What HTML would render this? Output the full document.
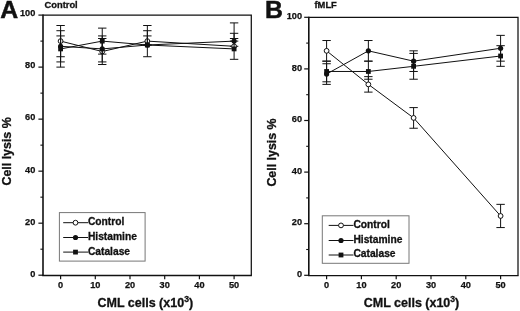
<!DOCTYPE html>
<html><head><meta charset="utf-8"><title>Figure</title>
<style>
html,body{margin:0;padding:0;background:#fff}
svg{display:block;filter:blur(0.35px)}
text{font-family:"Liberation Sans",sans-serif;font-weight:bold;fill:#111}
.tk{font-size:9.2px;stroke:#111;stroke-width:0.25px}
.lg{font-size:10.25px;stroke:#111;stroke-width:0.3px}
.xt{font-size:12.5px;stroke:#111;stroke-width:0.3px}
.yt{font-size:12.4px;stroke:#111;stroke-width:0.3px}
.pl{font-size:24.8px;stroke:#111;stroke-width:0.5px}
.tt{font-size:9.35px;stroke:#111;stroke-width:0.3px}
</style></head><body>
<svg width="520" height="311" viewBox="0 0 520 311">
<rect width="520" height="311" fill="#fff"/>
<path d="M43 15.1H251.3V275.5" fill="none" stroke="#111" stroke-width="1.25"/>
<path d="M43 14.5V275.5" fill="none" stroke="#111" stroke-width="1.6"/>
<path d="M42.2 275.5H251.9" fill="none" stroke="#111" stroke-width="1.4"/>
<line x1="38.4" y1="275.2" x2="43" y2="275.2" stroke="#111" stroke-width="1.2"/>
<text x="35.3" y="277.1" text-anchor="end" class="tk">0</text>
<line x1="40.4" y1="249.19" x2="43" y2="249.19" stroke="#111" stroke-width="1.1"/>
<line x1="38.4" y1="223.18" x2="43" y2="223.18" stroke="#111" stroke-width="1.2"/>
<text x="35.3" y="224.86" text-anchor="end" class="tk">20</text>
<line x1="40.4" y1="197.17" x2="43" y2="197.17" stroke="#111" stroke-width="1.1"/>
<line x1="38.4" y1="171.16" x2="43" y2="171.16" stroke="#111" stroke-width="1.2"/>
<text x="35.3" y="172.62" text-anchor="end" class="tk">40</text>
<line x1="40.4" y1="145.15" x2="43" y2="145.15" stroke="#111" stroke-width="1.1"/>
<line x1="38.4" y1="119.14" x2="43" y2="119.14" stroke="#111" stroke-width="1.2"/>
<text x="35.3" y="120.38" text-anchor="end" class="tk">60</text>
<line x1="40.4" y1="93.13" x2="43" y2="93.13" stroke="#111" stroke-width="1.1"/>
<line x1="38.4" y1="67.12" x2="43" y2="67.12" stroke="#111" stroke-width="1.2"/>
<text x="35.3" y="68.14" text-anchor="end" class="tk">80</text>
<line x1="40.4" y1="41.11" x2="43" y2="41.11" stroke="#111" stroke-width="1.1"/>
<line x1="38.4" y1="15.1" x2="43" y2="15.1" stroke="#111" stroke-width="1.2"/>
<text x="35.3" y="15.9" text-anchor="end" class="tk">100</text>
<line x1="60.6" y1="275.2" x2="60.6" y2="279.2" stroke="#111" stroke-width="1.2"/>
<text x="60.6" y="287.5" text-anchor="middle" class="tk">0</text>
<line x1="95.3" y1="275.2" x2="95.3" y2="279.2" stroke="#111" stroke-width="1.2"/>
<text x="95.3" y="287.5" text-anchor="middle" class="tk">10</text>
<line x1="130" y1="275.2" x2="130" y2="279.2" stroke="#111" stroke-width="1.2"/>
<text x="130" y="287.5" text-anchor="middle" class="tk">20</text>
<line x1="164.7" y1="275.2" x2="164.7" y2="279.2" stroke="#111" stroke-width="1.2"/>
<text x="164.7" y="287.5" text-anchor="middle" class="tk">30</text>
<line x1="199.4" y1="275.2" x2="199.4" y2="279.2" stroke="#111" stroke-width="1.2"/>
<text x="199.4" y="287.5" text-anchor="middle" class="tk">40</text>
<line x1="234.1" y1="275.2" x2="234.1" y2="279.2" stroke="#111" stroke-width="1.2"/>
<text x="234.1" y="287.5" text-anchor="middle" class="tk">50</text>
<path d="M60.6 41.11L102.24 51.51L147.35 41.11L234.1 46.31" stroke="#111" stroke-width="1.0" fill="none"/>
<path d="M60.6 25.5V56.72M56.4 25.5h8.4M56.4 56.72h8.4" stroke="#111" stroke-width="1.0" fill="none"/>
<path d="M102.24 38.51V64.52M98.04 38.51h8.4M98.04 64.52h8.4" stroke="#111" stroke-width="1.0" fill="none"/>
<path d="M147.35 25.5V56.72M143.15 25.5h8.4M143.15 56.72h8.4" stroke="#111" stroke-width="1.0" fill="none"/>
<path d="M234.1 33.31V46.31M229.9 33.31h8.4M229.9 46.31h8.4" stroke="#111" stroke-width="1.0" fill="none"/>
<circle cx="60.6" cy="41.11" r="2.4" fill="#fff" stroke="#111" stroke-width="1"/>
<circle cx="102.24" cy="51.51" r="2.4" fill="#fff" stroke="#111" stroke-width="1"/>
<circle cx="147.35" cy="41.11" r="2.4" fill="#fff" stroke="#111" stroke-width="1"/>
<circle cx="234.1" cy="46.31" r="2.4" fill="#fff" stroke="#111" stroke-width="1"/>
<path d="M60.6 46.31L102.24 48.91L147.35 45.01L234.1 41.11" stroke="#111" stroke-width="1.0" fill="none"/>
<path d="M60.6 30.71V61.92M56.4 30.71h8.4M56.4 61.92h8.4" stroke="#111" stroke-width="1.0" fill="none"/>
<path d="M102.24 35.91V61.92M98.04 35.91h8.4M98.04 61.92h8.4" stroke="#111" stroke-width="1.0" fill="none"/>
<path d="M147.35 30.71V45.01M143.15 30.71h8.4M143.15 45.01h8.4" stroke="#111" stroke-width="1.0" fill="none"/>
<path d="M234.1 22.9V41.11M229.9 22.9h8.4M229.9 41.11h8.4" stroke="#111" stroke-width="1.0" fill="none"/>
<circle cx="60.6" cy="46.31" r="2.6" fill="#111"/>
<circle cx="102.24" cy="48.91" r="2.6" fill="#111"/>
<circle cx="147.35" cy="45.01" r="2.6" fill="#111"/>
<circle cx="234.1" cy="41.11" r="2.6" fill="#111"/>
<path d="M60.6 48.91L102.24 41.11L147.35 45.01L234.1 48.91" stroke="#111" stroke-width="1.0" fill="none"/>
<path d="M60.6 35.91V67.12M56.4 35.91h8.4M56.4 67.12h8.4" stroke="#111" stroke-width="1.0" fill="none"/>
<path d="M102.24 28.11V54.12M98.04 28.11h8.4M98.04 54.12h8.4" stroke="#111" stroke-width="1.0" fill="none"/>
<path d="M147.35 35.91V45.01M143.15 35.91h8.4M143.15 45.01h8.4" stroke="#111" stroke-width="1.0" fill="none"/>
<path d="M234.1 38.51V59.32M229.9 38.51h8.4M229.9 59.32h8.4" stroke="#111" stroke-width="1.0" fill="none"/>
<rect x="58.2" y="46.51" width="4.8" height="4.8" fill="#111"/>
<rect x="99.84" y="38.71" width="4.8" height="4.8" fill="#111"/>
<rect x="144.95" y="42.61" width="4.8" height="4.8" fill="#111"/>
<rect x="231.7" y="46.51" width="4.8" height="4.8" fill="#111"/>
<rect x="59.4" y="212.6" width="85.7" height="48.5" fill="#fff" stroke="#777" stroke-width="1"/>
<line x1="63.2" y1="222.7" x2="88" y2="222.7" stroke="#111" stroke-width="1"/>
<circle cx="75.5" cy="222.7" r="2.4" fill="#fff" stroke="#111" stroke-width="1"/>
<text x="87.9" y="225.4" class="lg">Control</text>
<line x1="63.2" y1="237.5" x2="88" y2="237.5" stroke="#111" stroke-width="1"/>
<circle cx="75.5" cy="237.5" r="2.6" fill="#111"/>
<text x="87.9" y="240.2" class="lg">Histamine</text>
<line x1="63.2" y1="252.1" x2="88" y2="252.1" stroke="#111" stroke-width="1"/>
<rect x="73.1" y="249.7" width="4.8" height="4.8" fill="#111"/>
<text x="87.9" y="254.8" class="lg">Catalase</text>
<text x="145.3" y="306.9" class="xt" text-anchor="middle">CML cells (x10<tspan dy="-5" font-size="8.6">3</tspan><tspan dy="5">)</tspan></text>
<text transform="translate(10.6 151.4) rotate(-90)" class="yt" text-anchor="middle">Cell lysis %</text>
<text x="0.3" y="17.6" class="pl">A</text>
<text x="44.5" y="7.7" class="tt">Control</text>
<path d="M308.8 17.3H518V275.6" fill="none" stroke="#111" stroke-width="1.25"/>
<path d="M308.8 16.7V275.6" fill="none" stroke="#111" stroke-width="1.6"/>
<path d="M308 275.6H518.6" fill="none" stroke="#111" stroke-width="1.4"/>
<line x1="304.2" y1="275.3" x2="308.8" y2="275.3" stroke="#111" stroke-width="1.2"/>
<text x="302.1" y="276.9" text-anchor="end" class="tk">0</text>
<line x1="306.2" y1="249.5" x2="308.8" y2="249.5" stroke="#111" stroke-width="1.1"/>
<line x1="304.2" y1="223.7" x2="308.8" y2="223.7" stroke="#111" stroke-width="1.2"/>
<text x="302.1" y="225.3" text-anchor="end" class="tk">20</text>
<line x1="306.2" y1="197.9" x2="308.8" y2="197.9" stroke="#111" stroke-width="1.1"/>
<line x1="304.2" y1="172.1" x2="308.8" y2="172.1" stroke="#111" stroke-width="1.2"/>
<text x="302.1" y="173.7" text-anchor="end" class="tk">40</text>
<line x1="306.2" y1="146.3" x2="308.8" y2="146.3" stroke="#111" stroke-width="1.1"/>
<line x1="304.2" y1="120.5" x2="308.8" y2="120.5" stroke="#111" stroke-width="1.2"/>
<text x="302.1" y="122.1" text-anchor="end" class="tk">60</text>
<line x1="306.2" y1="94.7" x2="308.8" y2="94.7" stroke="#111" stroke-width="1.1"/>
<line x1="304.2" y1="68.9" x2="308.8" y2="68.9" stroke="#111" stroke-width="1.2"/>
<text x="302.1" y="70.5" text-anchor="end" class="tk">80</text>
<line x1="306.2" y1="43.1" x2="308.8" y2="43.1" stroke="#111" stroke-width="1.1"/>
<line x1="304.2" y1="17.3" x2="308.8" y2="17.3" stroke="#111" stroke-width="1.2"/>
<text x="302.1" y="18.9" text-anchor="end" class="tk">100</text>
<line x1="326.6" y1="275.3" x2="326.6" y2="279.3" stroke="#111" stroke-width="1.2"/>
<text x="326.6" y="287.6" text-anchor="middle" class="tk">0</text>
<line x1="361.4" y1="275.3" x2="361.4" y2="279.3" stroke="#111" stroke-width="1.2"/>
<text x="361.4" y="287.6" text-anchor="middle" class="tk">10</text>
<line x1="396.2" y1="275.3" x2="396.2" y2="279.3" stroke="#111" stroke-width="1.2"/>
<text x="396.2" y="287.6" text-anchor="middle" class="tk">20</text>
<line x1="431" y1="275.3" x2="431" y2="279.3" stroke="#111" stroke-width="1.2"/>
<text x="431" y="287.6" text-anchor="middle" class="tk">30</text>
<line x1="465.8" y1="275.3" x2="465.8" y2="279.3" stroke="#111" stroke-width="1.2"/>
<text x="465.8" y="287.6" text-anchor="middle" class="tk">40</text>
<line x1="500.6" y1="275.3" x2="500.6" y2="279.3" stroke="#111" stroke-width="1.2"/>
<text x="500.6" y="287.6" text-anchor="middle" class="tk">50</text>
<path d="M326.6 50.84L368.36 84.38L413.6 117.92L500.6 215.96" stroke="#111" stroke-width="1.0" fill="none"/>
<path d="M326.6 40.52V61.16M322.4 40.52h8.4M322.4 61.16h8.4" stroke="#111" stroke-width="1.0" fill="none"/>
<path d="M368.36 76.64V92.12M364.16 76.64h8.4M364.16 92.12h8.4" stroke="#111" stroke-width="1.0" fill="none"/>
<path d="M413.6 107.6V128.24M409.4 107.6h8.4M409.4 128.24h8.4" stroke="#111" stroke-width="1.0" fill="none"/>
<path d="M500.6 204.35V227.57M496.4 204.35h8.4M496.4 227.57h8.4" stroke="#111" stroke-width="1.0" fill="none"/>
<circle cx="326.6" cy="50.84" r="2.4" fill="#fff" stroke="#111" stroke-width="1"/>
<circle cx="368.36" cy="84.38" r="2.4" fill="#fff" stroke="#111" stroke-width="1"/>
<circle cx="413.6" cy="117.92" r="2.4" fill="#fff" stroke="#111" stroke-width="1"/>
<circle cx="500.6" cy="215.96" r="2.4" fill="#fff" stroke="#111" stroke-width="1"/>
<path d="M326.6 74.06L368.36 50.84L413.6 61.16L500.6 48.26" stroke="#111" stroke-width="1.0" fill="none"/>
<path d="M326.6 63.74V84.38M322.4 63.74h8.4M322.4 84.38h8.4" stroke="#111" stroke-width="1.0" fill="none"/>
<path d="M368.36 40.52V61.16M364.16 40.52h8.4M364.16 61.16h8.4" stroke="#111" stroke-width="1.0" fill="none"/>
<path d="M413.6 50.84V71.48M409.4 50.84h8.4M409.4 71.48h8.4" stroke="#111" stroke-width="1.0" fill="none"/>
<path d="M500.6 35.36V61.16M496.4 35.36h8.4M496.4 61.16h8.4" stroke="#111" stroke-width="1.0" fill="none"/>
<circle cx="326.6" cy="74.06" r="2.6" fill="#111"/>
<circle cx="368.36" cy="50.84" r="2.6" fill="#111"/>
<circle cx="413.6" cy="61.16" r="2.6" fill="#111"/>
<circle cx="500.6" cy="48.26" r="2.6" fill="#111"/>
<path d="M326.6 71.48L368.36 71.48L413.6 66.32L500.6 56" stroke="#111" stroke-width="1.0" fill="none"/>
<path d="M326.6 61.16V81.8M322.4 61.16h8.4M322.4 81.8h8.4" stroke="#111" stroke-width="1.0" fill="none"/>
<path d="M368.36 61.16V79.22M364.16 61.16h8.4M364.16 79.22h8.4" stroke="#111" stroke-width="1.0" fill="none"/>
<path d="M413.6 53.42V79.22M409.4 53.42h8.4M409.4 79.22h8.4" stroke="#111" stroke-width="1.0" fill="none"/>
<path d="M500.6 45.68V66.32M496.4 45.68h8.4M496.4 66.32h8.4" stroke="#111" stroke-width="1.0" fill="none"/>
<rect x="324.2" y="69.08" width="4.8" height="4.8" fill="#111"/>
<rect x="365.96" y="69.08" width="4.8" height="4.8" fill="#111"/>
<rect x="411.2" y="63.92" width="4.8" height="4.8" fill="#111"/>
<rect x="498.2" y="53.6" width="4.8" height="4.8" fill="#111"/>
<rect x="322.3" y="215.8" width="86.7" height="47.5" fill="#fff" stroke="#777" stroke-width="1"/>
<line x1="328.7" y1="225.4" x2="353.5" y2="225.4" stroke="#111" stroke-width="1"/>
<circle cx="341" cy="225.4" r="2.4" fill="#fff" stroke="#111" stroke-width="1"/>
<text x="353.4" y="227.7" class="lg">Control</text>
<line x1="328.7" y1="240.5" x2="353.5" y2="240.5" stroke="#111" stroke-width="1"/>
<circle cx="341" cy="240.5" r="2.6" fill="#111"/>
<text x="353.4" y="242.8" class="lg">Histamine</text>
<line x1="328.7" y1="255" x2="353.5" y2="255" stroke="#111" stroke-width="1"/>
<rect x="338.6" y="252.6" width="4.8" height="4.8" fill="#111"/>
<text x="353.4" y="257.3" class="lg">Catalase</text>
<text x="411.5" y="306.9" class="xt" text-anchor="middle">CML cells (x10<tspan dy="-5" font-size="8.6">3</tspan><tspan dy="5">)</tspan></text>
<text transform="translate(276.2 152.5) rotate(-90)" class="yt" text-anchor="middle">Cell lysis %</text>
<text x="265" y="18" class="pl">B</text>
<text x="314.5" y="7.9" class="tt">fMLF</text>
</svg>
</body></html>
